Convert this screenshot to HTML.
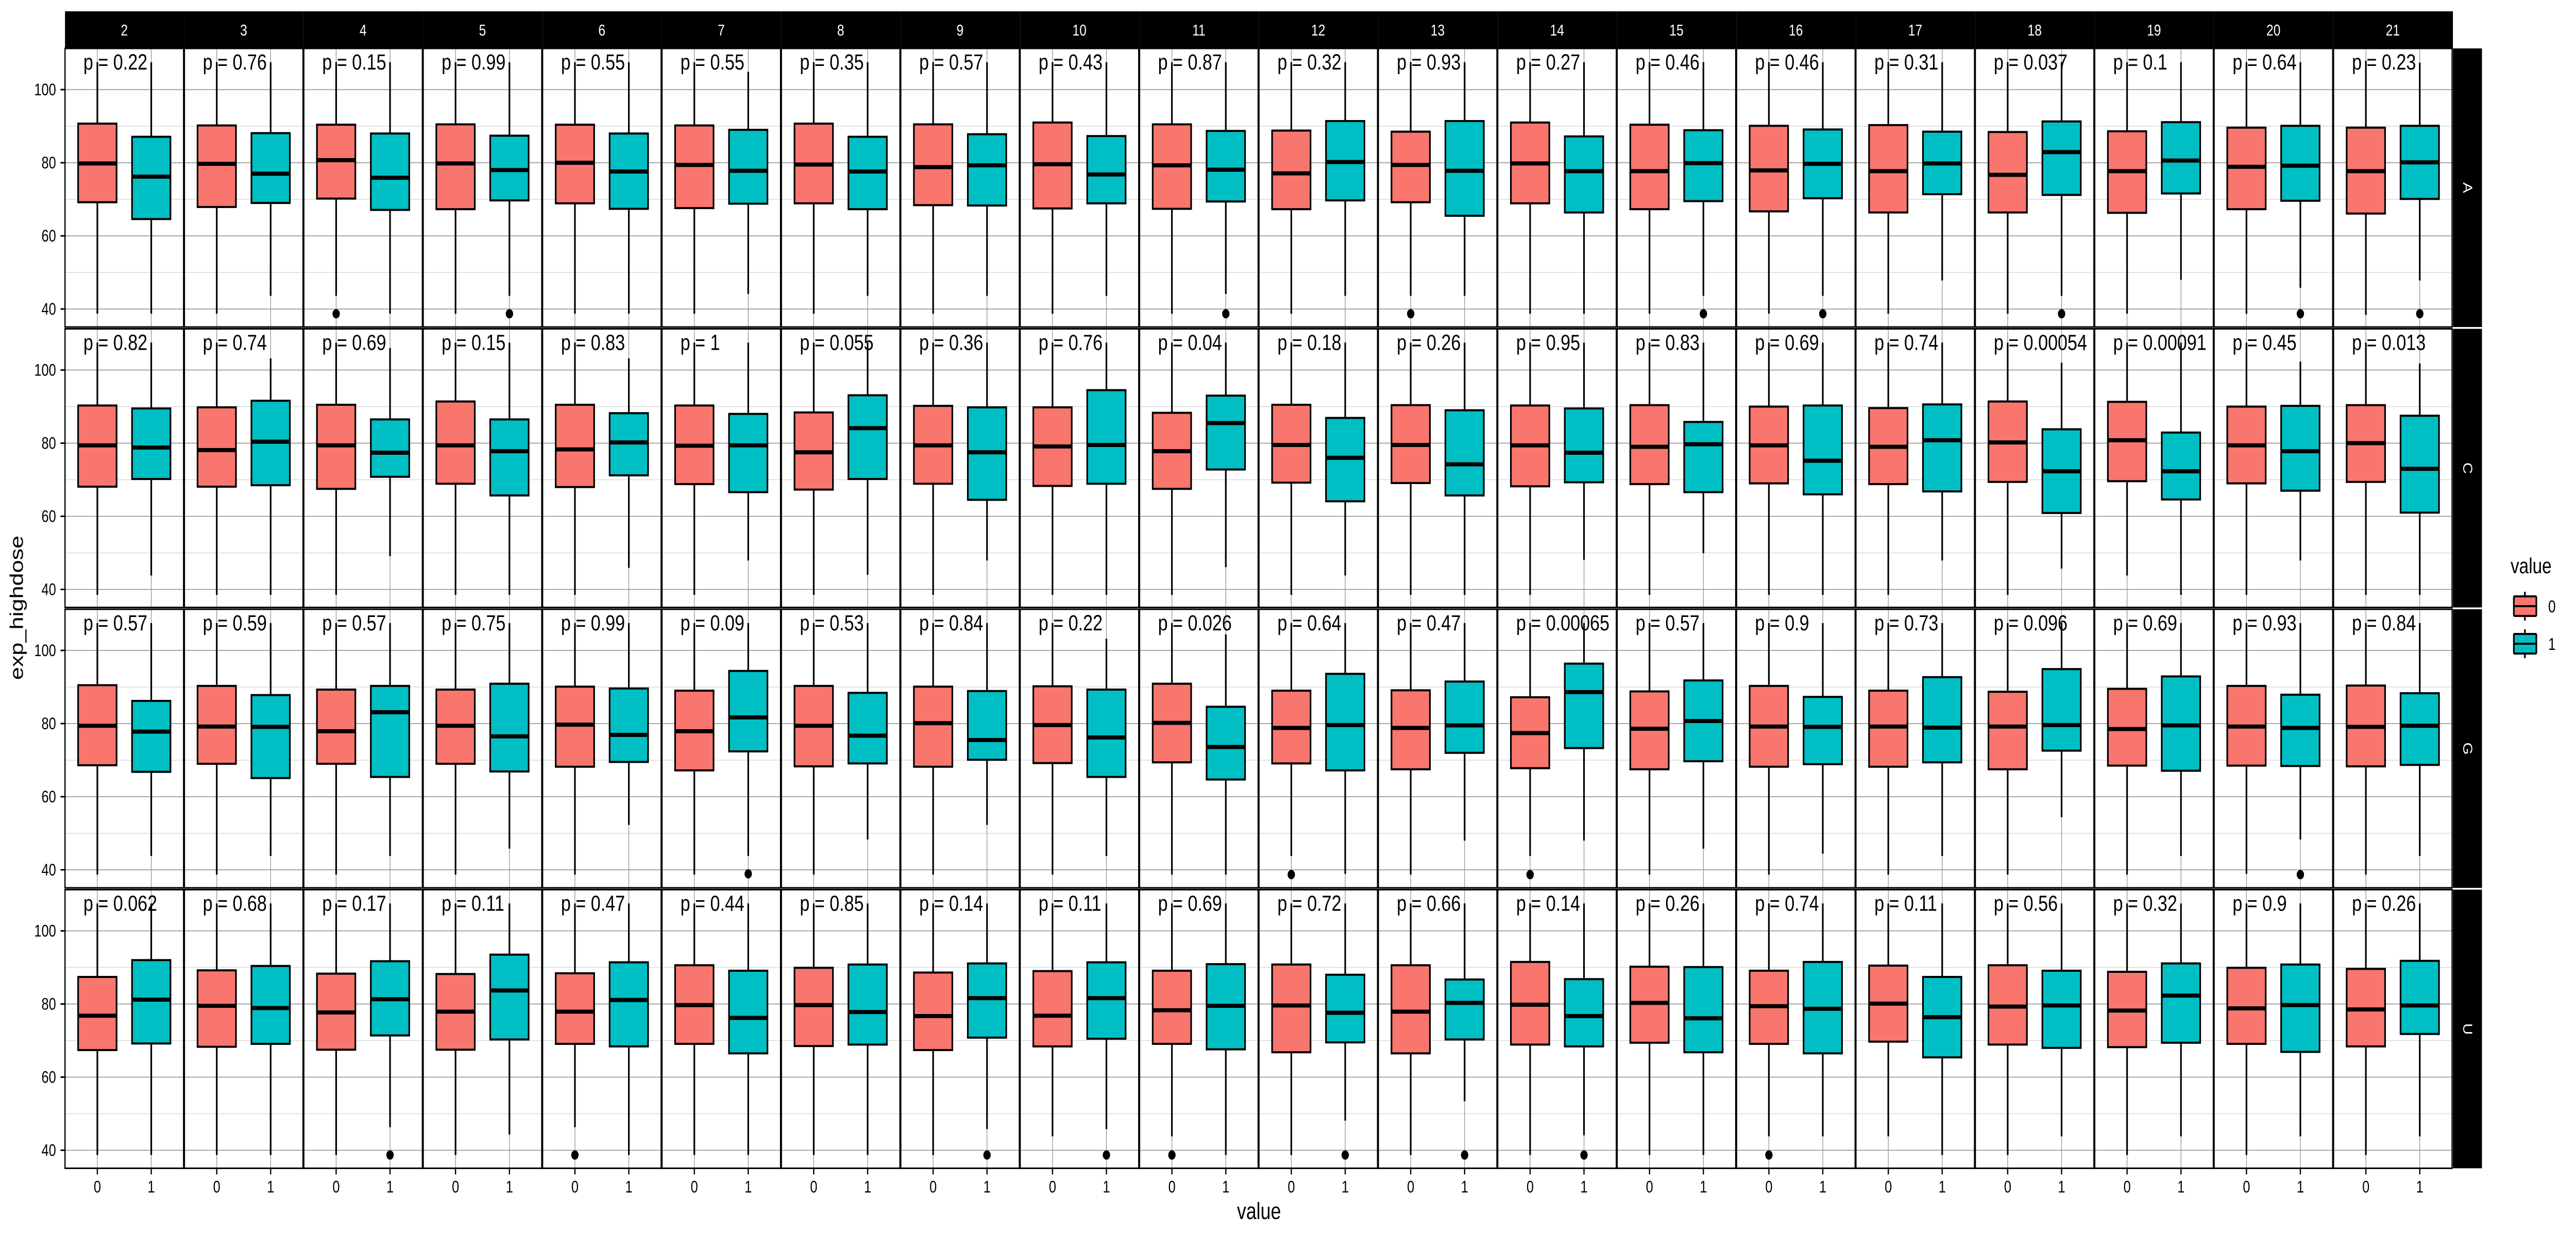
<!DOCTYPE html>
<html><head><meta charset="utf-8"><style>
html,body{margin:0;padding:0;background:#fff;width:100%;height:100%;overflow:hidden;}
svg{display:block;position:absolute;left:0;top:0;width:100vw;height:100vh;font-family:"Liberation Sans",Arial,sans-serif;}
</style></head><body>
<svg id="chart" viewBox="0 0 6300 2400" preserveAspectRatio="none" xmlns="http://www.w3.org/2000/svg">
<rect x="0" y="0" width="6300" height="2400" fill="#fff"/>
</svg>
<script>
const colLabels = ["2","3","4","5","6","7","8","9","10","11","12","13","14","15","16","17","18","19","20","21"];
const rowLabels = ["A","C","G","U"];
const groups = ["0","1"];
const yTicks = [40,60,80,100];
const yMinor = [50,70,90];
// [lower whisker, q1, median, q3, upper whisker]
const statsA0 = [[38.7,69.2,79.8,90.7,107.5],[38.7,67.9,79.7,90.2,107.5],[43.6,70.2,80.7,90.4,107.5],[38.7,67.3,79.8,90.5,107.5],[38.7,68.9,80.0,90.4,107.5],[38.7,67.6,79.4,90.2,107.5],[38.7,68.9,79.5,90.7,107.5],[38.7,68.4,78.8,90.5,107.5],[38.7,67.5,79.6,91.0,107.5],[38.7,67.4,79.3,90.5,107.5],[38.7,67.3,77.1,88.8,107.5],[43.6,69.2,79.4,88.5,107.5],[38.7,68.9,79.8,91.0,107.5],[38.7,67.3,77.7,90.4,107.5],[38.7,66.7,77.9,90.1,107.5],[38.7,66.4,77.7,90.3,107.5],[38.7,66.4,76.7,88.4,107.5],[38.7,66.3,77.7,88.6,107.5],[38.7,67.3,78.9,89.6,107.5],[38.4,66.1,77.7,89.6,107.9]];
const statsA1 = [[38.7,64.6,76.2,87.1,107.5],[43.6,69.0,77.0,88.1,107.5],[38.7,67.1,75.9,88.0,107.5],[43.6,69.7,78.0,87.4,107.5],[38.7,67.4,77.6,88.0,107.5],[44.1,68.8,77.8,89.0,104.9],[43.6,67.3,77.6,87.1,107.5],[43.6,68.3,79.3,87.8,107.5],[43.6,68.9,76.8,87.3,107.5],[44.1,69.4,78.1,88.7,107.5],[43.6,69.7,80.2,91.4,107.5],[43.6,65.5,77.8,91.4,107.5],[38.7,66.4,77.7,87.2,107.5],[43.6,69.5,79.9,88.9,107.5],[43.6,70.3,79.7,89.1,107.5],[47.8,71.4,79.8,88.5,107.5],[43.6,71.2,82.9,91.3,107.5],[48.0,71.6,80.6,91.1,107.5],[45.8,69.6,79.2,90.1,107.5],[47.8,70.1,80.1,90.1,107.4]];
const statsC0 = [[38.5,68.1,79.4,90.3,107.5],[38.5,68.1,78.1,89.8,107.5],[38.5,67.5,79.4,90.5,107.5],[38.5,68.9,79.4,91.4,107.5],[38.5,68.0,78.3,90.5,107.5],[38.5,68.8,79.3,90.3,107.5],[38.5,67.3,77.5,88.4,107.5],[38.5,68.9,79.4,90.2,107.5],[38.5,68.3,79.1,89.8,107.5],[38.5,67.5,77.8,88.3,107.5],[38.5,69.2,79.5,90.5,107.5],[38.5,69.1,79.5,90.4,107.5],[38.5,68.2,79.4,90.3,107.5],[38.5,68.8,79.0,90.4,107.5],[38.5,69.0,79.4,90.0,107.5],[38.5,68.8,79.0,89.6,107.5],[38.5,69.4,80.2,91.4,107.5],[43.8,69.6,80.8,91.3,107.5],[38.5,69.0,79.4,90.0,107.5],[38.5,69.4,80.0,90.4,107.5]];
const statsC1 = [[43.8,70.2,78.8,89.5,107.5],[38.5,68.5,80.4,91.6,103.2],[49.1,70.8,77.4,86.5,106.0],[38.5,65.7,77.8,86.5,107.5],[45.9,71.2,80.2,88.2,103.2],[47.9,66.6,79.4,88.0,107.5],[44.0,70.2,84.1,93.1,107.5],[47.9,64.5,77.5,89.8,107.5],[38.5,68.9,79.5,94.5,107.5],[46.1,72.8,85.5,93.0,107.5],[43.8,64.1,76.0,86.9,107.5],[38.5,65.7,74.2,89.0,107.5],[48.1,69.3,77.4,89.5,107.5],[49.9,66.6,79.7,85.8,107.5],[38.5,66.0,75.2,90.3,107.5],[47.9,66.8,80.8,90.6,107.5],[45.7,60.9,72.3,83.8,102.0],[38.5,64.6,72.3,82.9,107.5],[47.9,67.0,77.8,90.2,102.3],[38.5,61.0,73.0,87.5,101.8]];
const statsG0 = [[38.7,68.6,79.4,90.5,107.5],[38.7,69.0,79.2,90.3,107.5],[38.7,69.0,77.9,89.3,107.5],[38.7,69.0,79.4,89.3,107.5],[38.7,68.2,79.7,90.1,107.5],[38.7,67.2,77.9,89.0,107.5],[38.7,68.3,79.4,90.3,107.5],[38.7,68.2,80.1,90.1,107.5],[38.7,69.2,79.6,90.2,107.5],[38.7,69.4,80.2,90.9,107.5],[43.8,69.1,78.8,89.0,107.5],[38.7,67.5,78.8,89.1,107.5],[43.8,67.8,77.4,87.2,107.5],[38.7,67.5,78.6,88.8,107.5],[38.7,68.2,79.2,90.3,107.5],[38.7,68.2,79.2,89.0,107.5],[38.7,67.5,79.2,88.7,107.5],[38.7,68.5,78.5,89.5,107.5],[38.9,68.5,79.2,90.3,107.5],[38.7,68.3,79.1,90.4,107.5]];
const statsG1 = [[43.8,66.8,77.8,86.2,107.5],[43.8,65.1,79.1,87.8,107.5],[43.8,65.4,83.1,90.3,107.5],[45.8,66.9,76.5,90.9,107.5],[52.3,69.5,76.9,89.6,107.5],[43.8,72.4,81.7,94.4,107.5],[48.3,69.1,76.7,88.4,107.5],[52.3,70.1,75.5,88.9,107.5],[43.8,65.4,76.2,89.3,103.2],[38.7,64.7,73.6,84.6,104.4],[38.9,67.2,79.6,93.6,107.5],[48.0,72.0,79.5,91.5,107.5],[48.0,73.3,88.6,96.4,107.5],[45.8,69.7,80.7,91.8,107.5],[44.4,68.9,79.1,87.3,107.5],[43.8,69.4,78.9,92.7,107.5],[54.4,72.6,79.6,94.9,107.5],[43.8,67.1,79.5,92.9,107.5],[48.3,68.4,78.8,87.9,107.5],[43.8,68.7,79.4,88.3,107.5]];
const statsU0 = [[38.7,67.4,76.8,87.4,107.5],[38.7,68.3,79.5,89.2,107.5],[38.7,67.5,77.7,88.3,107.5],[38.7,67.5,77.9,88.2,107.5],[46.3,69.1,77.9,88.4,107.5],[38.7,69.1,79.7,90.6,107.5],[38.7,68.5,79.7,89.9,107.5],[38.7,67.4,76.7,88.6,107.5],[43.8,68.4,76.8,89.0,107.5],[43.8,69.1,78.3,89.1,107.5],[38.7,66.8,79.6,90.8,107.5],[38.7,66.5,77.9,90.6,107.5],[38.7,68.9,79.8,91.5,107.5],[38.7,69.4,80.3,90.2,107.5],[43.8,69.1,79.4,89.1,107.5],[43.8,69.7,80.1,90.5,107.5],[38.7,68.9,79.3,90.6,107.5],[38.7,68.2,78.2,88.8,107.5],[38.7,69.1,78.8,89.9,107.5],[38.7,68.4,78.5,89.6,107.5]];
const statsU1 = [[38.7,69.2,81.2,92.0,107.5],[38.7,69.1,78.9,90.4,107.5],[46.3,71.4,81.3,91.7,107.5],[44.3,70.3,83.7,93.5,107.5],[38.7,68.4,81.1,91.4,107.5],[38.7,66.5,76.2,89.1,107.5],[38.7,68.9,77.8,90.8,107.5],[45.8,70.8,81.6,91.1,107.5],[45.8,70.5,81.6,91.4,107.5],[38.7,67.6,79.5,90.9,107.5],[48.1,69.5,77.6,88.0,107.5],[53.4,70.3,80.3,86.7,107.5],[44.1,68.4,76.7,86.8,107.5],[38.7,66.8,76.1,90.1,107.5],[43.8,66.5,78.7,91.5,107.5],[38.7,65.4,76.4,87.4,107.5],[43.8,68.0,79.6,89.1,107.5],[43.8,69.4,82.3,91.1,107.5],[43.8,66.9,79.7,90.8,107.5],[43.8,71.8,79.6,91.8,107.5]];
// outliers: [columnIndex, group, value]
const outliersA = [[2,0,38.7],[11,0,38.7],[3,1,38.7],[9,1,38.7],[13,1,38.7],[14,1,38.7],[16,1,38.7],[18,1,38.7],[19,1,38.7]];
const outliersC = [];
const outliersG = [[10,0,38.7],[12,0,38.7],[5,1,38.9],[18,1,38.7]];
const outliersU = [[4,0,38.7],[9,0,38.7],[14,0,38.7],[2,1,38.7],[7,1,38.7],[8,1,38.7],[10,1,38.7],[11,1,38.7],[12,1,38.7]];
const pA = ["0.22","0.76","0.15","0.99","0.55","0.55","0.35","0.57","0.43","0.87","0.32","0.93","0.27","0.46","0.46","0.31","0.037","0.1","0.64","0.23"];
const pC = ["0.82","0.74","0.69","0.15","0.83","1","0.055","0.36","0.76","0.04","0.18","0.26","0.95","0.83","0.69","0.74","0.00054","0.00091","0.45","0.013"];
const pG = ["0.57","0.59","0.57","0.75","0.99","0.09","0.53","0.84","0.22","0.026","0.64","0.47","0.00065","0.57","0.9","0.73","0.096","0.69","0.93","0.84"];
const pU = ["0.062","0.68","0.17","0.11","0.47","0.44","0.85","0.14","0.11","0.69","0.72","0.66","0.14","0.26","0.74","0.11","0.56","0.32","0.9","0.26"];

const stats = [[statsA0,statsA1],[statsC0,statsC1],[statsG0,statsG1],[statsU0,statsU1]];
const outs = [outliersA,outliersC,outliersG,outliersU];
const pvals = [pA,pC,pG,pU];
const fills = ["#F8766D","#00BFC4"];

const NS = "http://www.w3.org/2000/svg";
const svg = document.getElementById("chart");
const X0 = 159, PW = 290, PSTEP = 292, Y0 = 94, PH = 541, RSTEP = 544.5;
const YMAX = 111.27, YMIN = 35.07;
function panelLeft(j){ return X0 + j*PSTEP; }
function panelTop(i){ return Y0 + i*RSTEP; }
function yScale(i, v){ return panelTop(i) + (YMAX - v)/(YMAX - YMIN)*PH; }
function xScale(j, g){ return panelLeft(j) + (g + 0.6)/2.2*PW; }
function el(tag, attrs, parent){ const e = document.createElementNS(NS, tag); for (const k in attrs) e.setAttribute(k, attrs[k]); (parent||svg).appendChild(e); return e; }

const BW = 94;
for (let i=0;i<rowLabels.length;i++){
  for (let j=0;j<colLabels.length;j++){
    const L = panelLeft(j), T = panelTop(i);
    const pg = el("g", {});
    
    
    el("rect", {x:L, y:T, width:PW, height:PH, fill:"#fff"}, pg);
    yMinor.forEach(v => { const ln = el("line", {x1:L, x2:L+PW, y1:yScale(i,v), y2:yScale(i,v), stroke:"#dadada", "stroke-width":1.5}, pg);
        });
    yTicks.forEach(v => { const ln = el("line", {x1:L, x2:L+PW, y1:yScale(i,v), y2:yScale(i,v), stroke:"#8c8c8c", "stroke-width":1.5}, pg);
        });
    groups.forEach((gn,g) => { const ln = el("line", {x1:xScale(j,g), x2:xScale(j,g), y1:T, y2:T+PH, stroke:"#8c8c8c", "stroke-width":1.5}, pg);
        });
    groups.forEach((gn,g) => {
      const s = stats[i][g][j];
      const cx = xScale(j,g);
      const bg = el("g", {}, pg);
      
      
      el("line", {x1:cx, x2:cx, y1:yScale(i,s[4]), y2:yScale(i,s[3]), stroke:"#000", "stroke-width":4}, bg);
      el("line", {x1:cx, x2:cx, y1:yScale(i,s[1]), y2:yScale(i,s[0]), stroke:"#000", "stroke-width":4}, bg);
      el("rect", {x:cx-BW/2, y:yScale(i,s[3]), width:BW, height:yScale(i,s[1])-yScale(i,s[3]), fill:fills[g], stroke:"#000", "stroke-width":4}, bg);
      el("line", {x1:cx-BW/2, x2:cx+BW/2, y1:yScale(i,s[2]), y2:yScale(i,s[2]), stroke:"#000", "stroke-width":8}, bg);
    });
    outs[i].filter(o => o[0]===j).forEach(o => {
      const c = el("circle", {cx:xScale(j,o[1]), cy:yScale(i,o[2]), r:9, fill:"#000"}, pg);
      
      
    });
    const pt = el("text", {x:L+45, y:T+41, "font-size":43, fill:"#000"}, pg);
    pt.textContent = "p = " + pvals[i][j];
    
    
    el("rect", {x:L, y:T, width:PW, height:PH, fill:"none", stroke:"#000", "stroke-width":3}, pg);
  }
  const T = panelTop(i);
  const rs = el("rect", {x:5999, y:T, width:71, height:PH, fill:"#000"});
  
  
  const rt = el("text", {x:0, y:0, "font-size":31, fill:"#fff", "text-anchor":"middle", transform:"translate(6024," + (T+PH/2) + ") rotate(90)"});
  rt.textContent = rowLabels[i];
  
  
  yTicks.forEach(v => {
    const y = yScale(i,v);
    const tk = el("line", {x1:148, x2:159, y1:y, y2:y, stroke:"#000", "stroke-width":3});
     
    const tl = el("text", {x:137, y:y+11, "font-size":32, "text-anchor":"end", fill:"#000"});
    tl.textContent = String(v);
     
  });
}
for (let j=0;j<colLabels.length;j++){
  const L = panelLeft(j);
  const st = el("rect", {x:L, y:22, width:PW+2, height:72, fill:"#000"});
  
  
  const tx = el("text", {x:L+PW/2, y:69, "font-size":31, fill:"#fff", "text-anchor":"middle"});
  tx.textContent = colLabels[j];
  
  
  groups.forEach((gn,g) => {
    const x = xScale(j,g);
    const yb = panelTop(3) + PH;
    const tk = el("line", {x1:x, x2:x, y1:yb, y2:yb+12, stroke:"#000", "stroke-width":3});
     
    const tl = el("text", {x:x, y:yb+47, "font-size":32, "text-anchor":"middle", fill:"#000"});
    tl.textContent = gn;
     
  });
}
const xt = el("text", {x:3079, y:2367, "font-size":45, "text-anchor":"middle", fill:"#000"});
xt.textContent = "value";
 
const yt = el("text", {x:0, y:0, "font-size":45, "text-anchor":"middle", fill:"#000", transform:"translate(56,1180) rotate(-90)"});
yt.textContent = "exp_highdose";
 
const lg = el("g", {});
 
const ltt = el("text", {x:6140, y:1113, "font-size":42, fill:"#000"}, lg);
ltt.textContent = "value";
 
groups.forEach((gn,g) => {
  const yc = 1177 + g*73;
  const eg = el("g", {}, lg);
   
  el("line", {x1:6175, x2:6175, y1:yc-28, y2:yc+28, stroke:"#000", "stroke-width":4}, eg);
  el("rect", {x:6148, y:yc-19, width:55, height:38, fill:fills[g], stroke:"#000", "stroke-width":4, rx:2}, eg);
  el("line", {x1:6148, x2:6203, y1:yc, y2:yc, stroke:"#000", "stroke-width":4}, eg);
  const t = el("text", {x:6232, y:yc+12, "font-size":33, fill:"#000"}, eg);
  t.textContent = gn;
});
</script>
</body></html>
